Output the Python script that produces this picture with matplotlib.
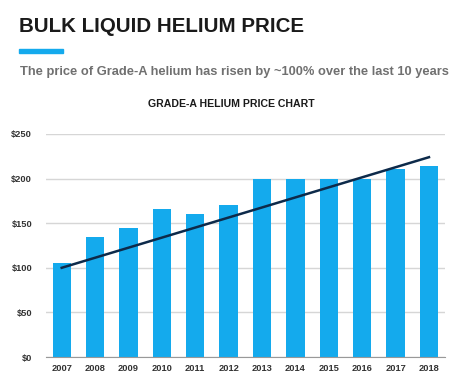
import matplotlib.pyplot as plt
import numpy as np

plt.rcParams['font.family'] = ['Liberation Sans', 'DejaVu Sans']

years = ['2007', '2008', '2009', '2010', '2011', '2012',
         '2013', '2014', '2015', '2016', '2017', '2018']
price = [105, 135, 145, 166, 160, 170, 200, 200, 200, 200, 211, 214]
trend_ends = [100, 224]
yticks = [0, 50, 100, 150, 200, 250]

blue = '#14aaed'
W, H = 477, 389

fig = plt.figure(figsize=(W / 100, H / 100), dpi=100)

# header texts
fig.text(19 / W, 1 - 27 / H, 'BULK LIQUID HELIUM PRICE', fontsize=14.8,
         fontweight='bold', color='#1a1a1a', va='center', ha='left')
fig.patches.append(plt.Rectangle((19 / W, 1 - 53 / H), 44 / W, 4 / H,
                                 transform=fig.transFigure, color=blue))
fig.text(20 / W, 1 - 72 / H,
         'The price of Grade-A helium has risen by ~100% over the last 10 years',
         fontsize=9.3, fontweight='bold', color='#707070', va='center', ha='left')
fig.text(231 / W, 1 - 104 / H, 'GRADE-A HELIUM PRICE CHART', fontsize=7.6,
         fontweight='bold', color='#1a1a1a', va='center', ha='center')

ax = fig.add_axes([46 / W, 1 - 357 / H, (445 - 46) / W, (357 - 134) / H])
x = np.arange(len(years))
ax.bar(x, price, width=0.55, color=blue, zorder=2)
ax.plot([x[0], x[-1]], trend_ends, color='#0d2a4a', lw=1.8, zorder=3)

ax.set_xlim(-0.47, len(years) - 1 + 0.48)
ax.set_ylim(0, 250)
ax.set_yticks(yticks)
ax.set_yticklabels(['$%d' % v for v in yticks])
ax.set_xticks(x)
ax.set_xticklabels(years)
ax.yaxis.grid(True, color='#d6d6d6', lw=1, zorder=0)
for s in ['top', 'right', 'left']:
    ax.spines[s].set_visible(False)
ax.spines['bottom'].set_color('#999999')
ax.tick_params(length=0, labelsize=6.7, colors='#333333')
ax.tick_params(axis='y', pad=10)
ax.tick_params(axis='x', pad=5)
for lbl in ax.get_xticklabels() + ax.get_yticklabels():
    lbl.set_fontweight('bold')

fig.savefig('out.png', dpi=100)
